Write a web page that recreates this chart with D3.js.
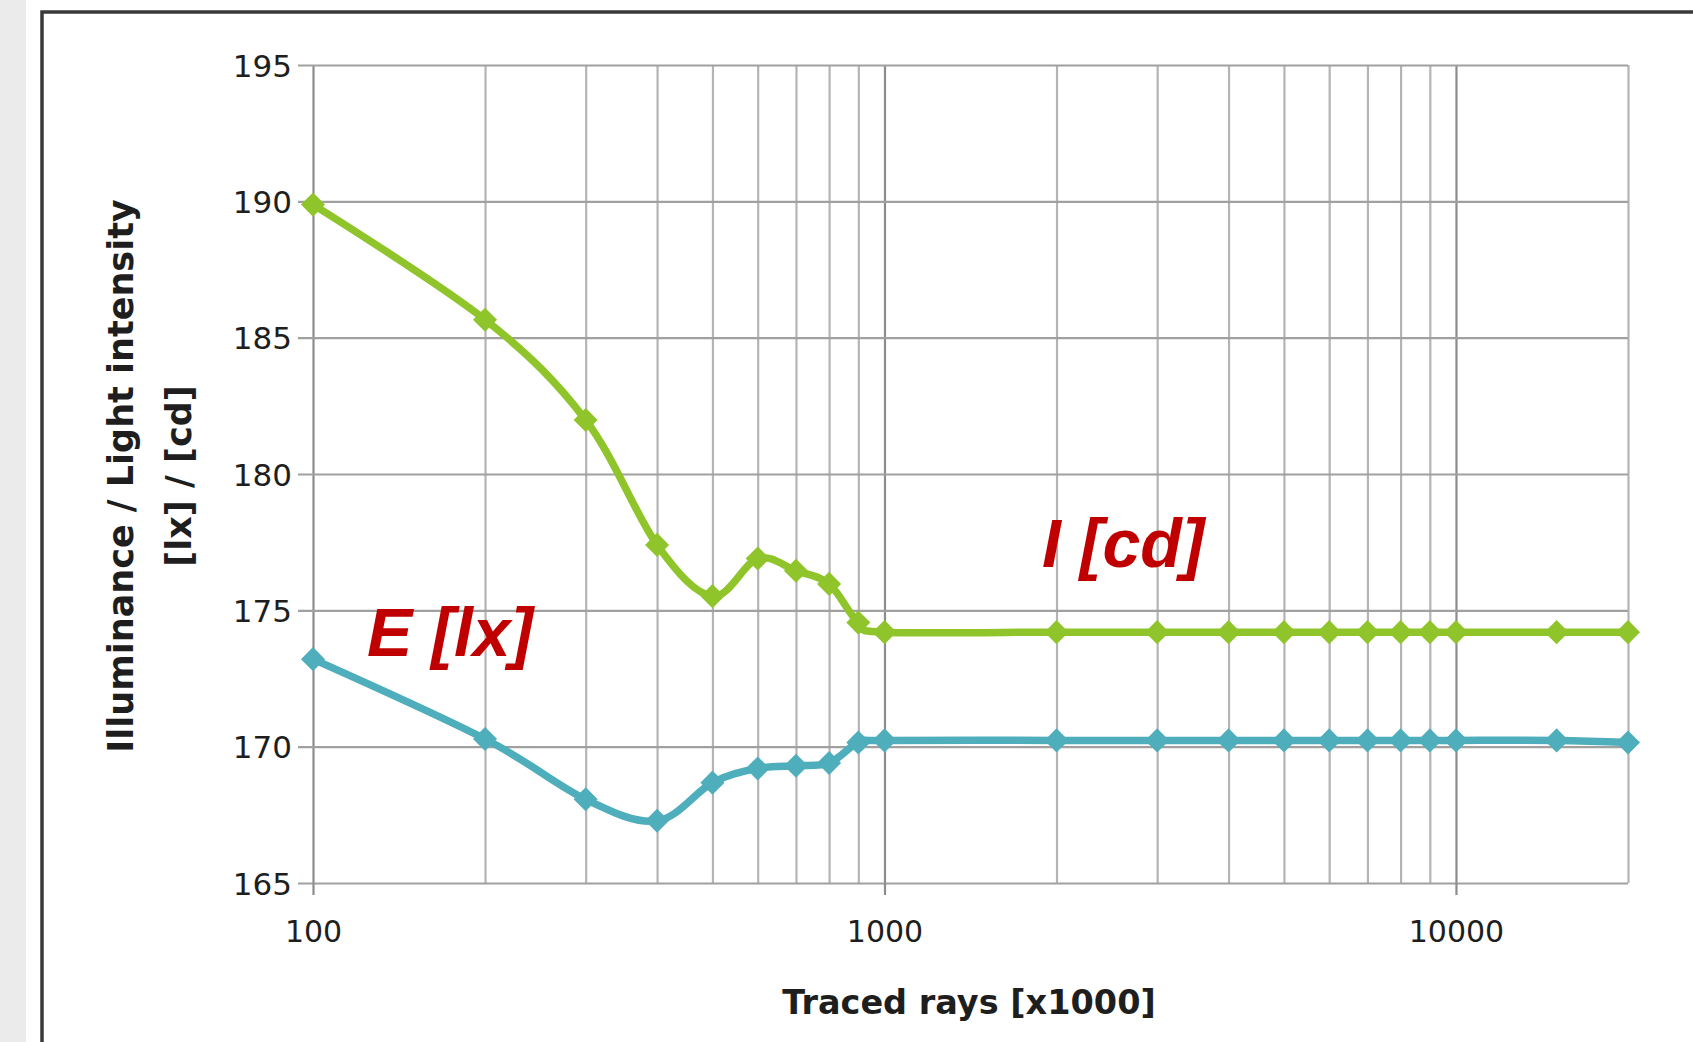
<!DOCTYPE html>
<html>
<head>
<meta charset="utf-8">
<script src="https://cdn.jsdelivr.net/npm/d3@7"></script>
<style>
  body { margin: 0; background: #fff; }
  svg { display: block; font-family: "DejaVu Sans", sans-serif; }
  .tick text { fill: #1e1e1e; }
</style>
</head>
<body>
<svg width="1693" height="1042"></svg>
<script>
// traced rays (x1000)
const rays = [100, 200, 300, 400, 500, 600, 700, 800, 900, 1000,
  2000, 3000, 4000, 5000, 6000, 7000, 8000, 9000, 10000, 15000, 20000]
// I [cd]
const intensity = [189.88, 185.66, 181.98, 177.4, 175.52, 176.9, 176.45, 175.97, 174.55, 174.2,
  174.2, 174.2, 174.2, 174.2, 174.2, 174.2, 174.2, 174.2, 174.2, 174.2, 174.2]
// E [lx]
const illuminance = [173.21, 170.28, 168.07, 167.28, 168.68, 169.2, 169.3, 169.4, 170.15, 170.23,
  170.23, 170.23, 170.23, 170.23, 170.23, 170.23, 170.23, 170.23, 170.23, 170.23, 170.15]
const yTicks = [165, 170, 175, 180, 185, 190, 195]
const xLabelTicks = [100, 1000, 10000]

const svg = d3.select('svg')
const w = +svg.attr('width')
const h = +svg.attr('height')

// slide background / frame
svg.append('rect').attr('width', w).attr('height', h).attr('fill', '#fff')
svg.append('rect').attr('width', 26).attr('height', h).attr('fill', '#ebebeb')
svg.append('path')
  .attr('d', `M42,${h} L42,12 L${w},12`)
  .attr('fill', 'none').attr('stroke', '#3a3a3a').attr('stroke-width', 3.5)

const margin = {top: 65, right: 65, bottom: 159, left: 313}
const innerWidth = w - margin.left - margin.right
const innerHeight = h - margin.top - margin.bottom

const xScale = d3.scaleLog()
  .domain([100, 20000])
  .range([0, innerWidth])

const yScale = d3.scaleLinear()
  .domain([165, 195])
  .range([innerHeight, 0])

const g = svg.append('g')
  .attr('transform', `translate(${margin.left}, ${margin.top})`)

// vertical grid (all log ticks)
g.append('g')
  .call(d3.axisBottom(xScale).tickValues(xScale.ticks()).tickSize(innerHeight).tickFormat(''))
  .call(a => a.select('.domain').remove())
  .selectAll('.tick line')
    .attr('stroke', d => xLabelTicks.includes(d) ? '#8c8c8c' : '#b4b4b4')
    .attr('stroke-width', 2.2)

// horizontal grid + y labels
const yAxisG = g.append('g')
  .call(d3.axisLeft(yScale).tickValues(yTicks).tickSize(-innerWidth).tickPadding(21))
  .attr('font-family', '"DejaVu Sans", sans-serif')
yAxisG.select('.domain').remove()
yAxisG.selectAll('.tick line')
  .attr('x1', -15)
  .attr('stroke', '#a0a0a0').attr('stroke-width', 2.2)
yAxisG.selectAll('.tick text')
  .attr('font-size', 31).attr('dy', '0.36em')

// x axis labels with short ticks
const xAxisG = g.append('g')
  .attr('transform', `translate(0, ${innerHeight})`)
  .call(d3.axisBottom(xScale).tickValues(xLabelTicks).tickSize(12).tickPadding(26)
    .tickFormat(d3.format('d')))
  .attr('font-family', '"DejaVu Sans", sans-serif')
xAxisG.select('.domain').remove()
xAxisG.selectAll('.tick line').attr('stroke', '#8c8c8c').attr('stroke-width', 2.2)
xAxisG.selectAll('.tick text').attr('font-size', 30)

// axis titles
g.append('text')
  .text('Traced rays [x1000]')
  .attr('x', 656).attr('y', innerHeight + 131)
  .attr('text-anchor', 'middle')
  .attr('font-size', 33.5).attr('font-weight', 'bold').attr('fill', '#1e1e1e')

const yTitle = svg.append('g')
  .attr('transform', `translate(0, 476) rotate(-90)`)
yTitle.append('text').text('Illuminance / Light intensity')
  .attr('x', 0).attr('y', 133)
  .attr('text-anchor', 'middle').attr('font-size', 35).attr('font-weight', 'bold').attr('fill', '#1e1e1e')
yTitle.append('text').text('[lx] / [cd]')
  .attr('x', 0).attr('y', 191)
  .attr('text-anchor', 'middle').attr('font-size', 35).attr('font-weight', 'bold').attr('fill', '#1e1e1e')

// series
const series = [
  {name: 'I', values: intensity, color: '#8fc52a'},
  {name: 'E', values: illuminance, color: '#4eaebb'}
]

const line = d3.line()
  .x(d => xScale(d[0]))
  .y(d => yScale(d[1]))
  .curve(d3.curveCatmullRom.alpha(0))

const diamond = d3.symbol(d3.symbolSquare, 290)

series.forEach(s => {
  const pts = rays.map((r, i) => [r, s.values[i]])
  g.append('path')
    .attr('d', line(pts))
    .attr('fill', 'none')
    .attr('stroke', s.color)
    .attr('stroke-width', 7.5)
    .attr('stroke-linejoin', 'round')
  g.selectAll(null).data(pts)
    .enter().append('path')
      .attr('d', diamond)
      .attr('transform', d => `translate(${xScale(d[0])}, ${yScale(d[1])}) rotate(45)`)
      .attr('fill', s.color)
})

// series labels
g.append('text').text('E [lx]')
  .attr('x', 367 - margin.left).attr('y', 656 - margin.top)
  .attr('font-family', '"Liberation Sans", Arial, sans-serif')
  .attr('font-size', 68).attr('font-weight', 'bold').attr('font-style', 'italic')
  .attr('fill', '#c00000')
g.append('text').text('I [cd]')
  .attr('x', 1042 - margin.left).attr('y', 567 - margin.top)
  .attr('font-family', '"Liberation Sans", Arial, sans-serif')
  .attr('font-size', 68).attr('font-weight', 'bold').attr('font-style', 'italic')
  .attr('fill', '#c00000')
</script>
</body>
</html>
